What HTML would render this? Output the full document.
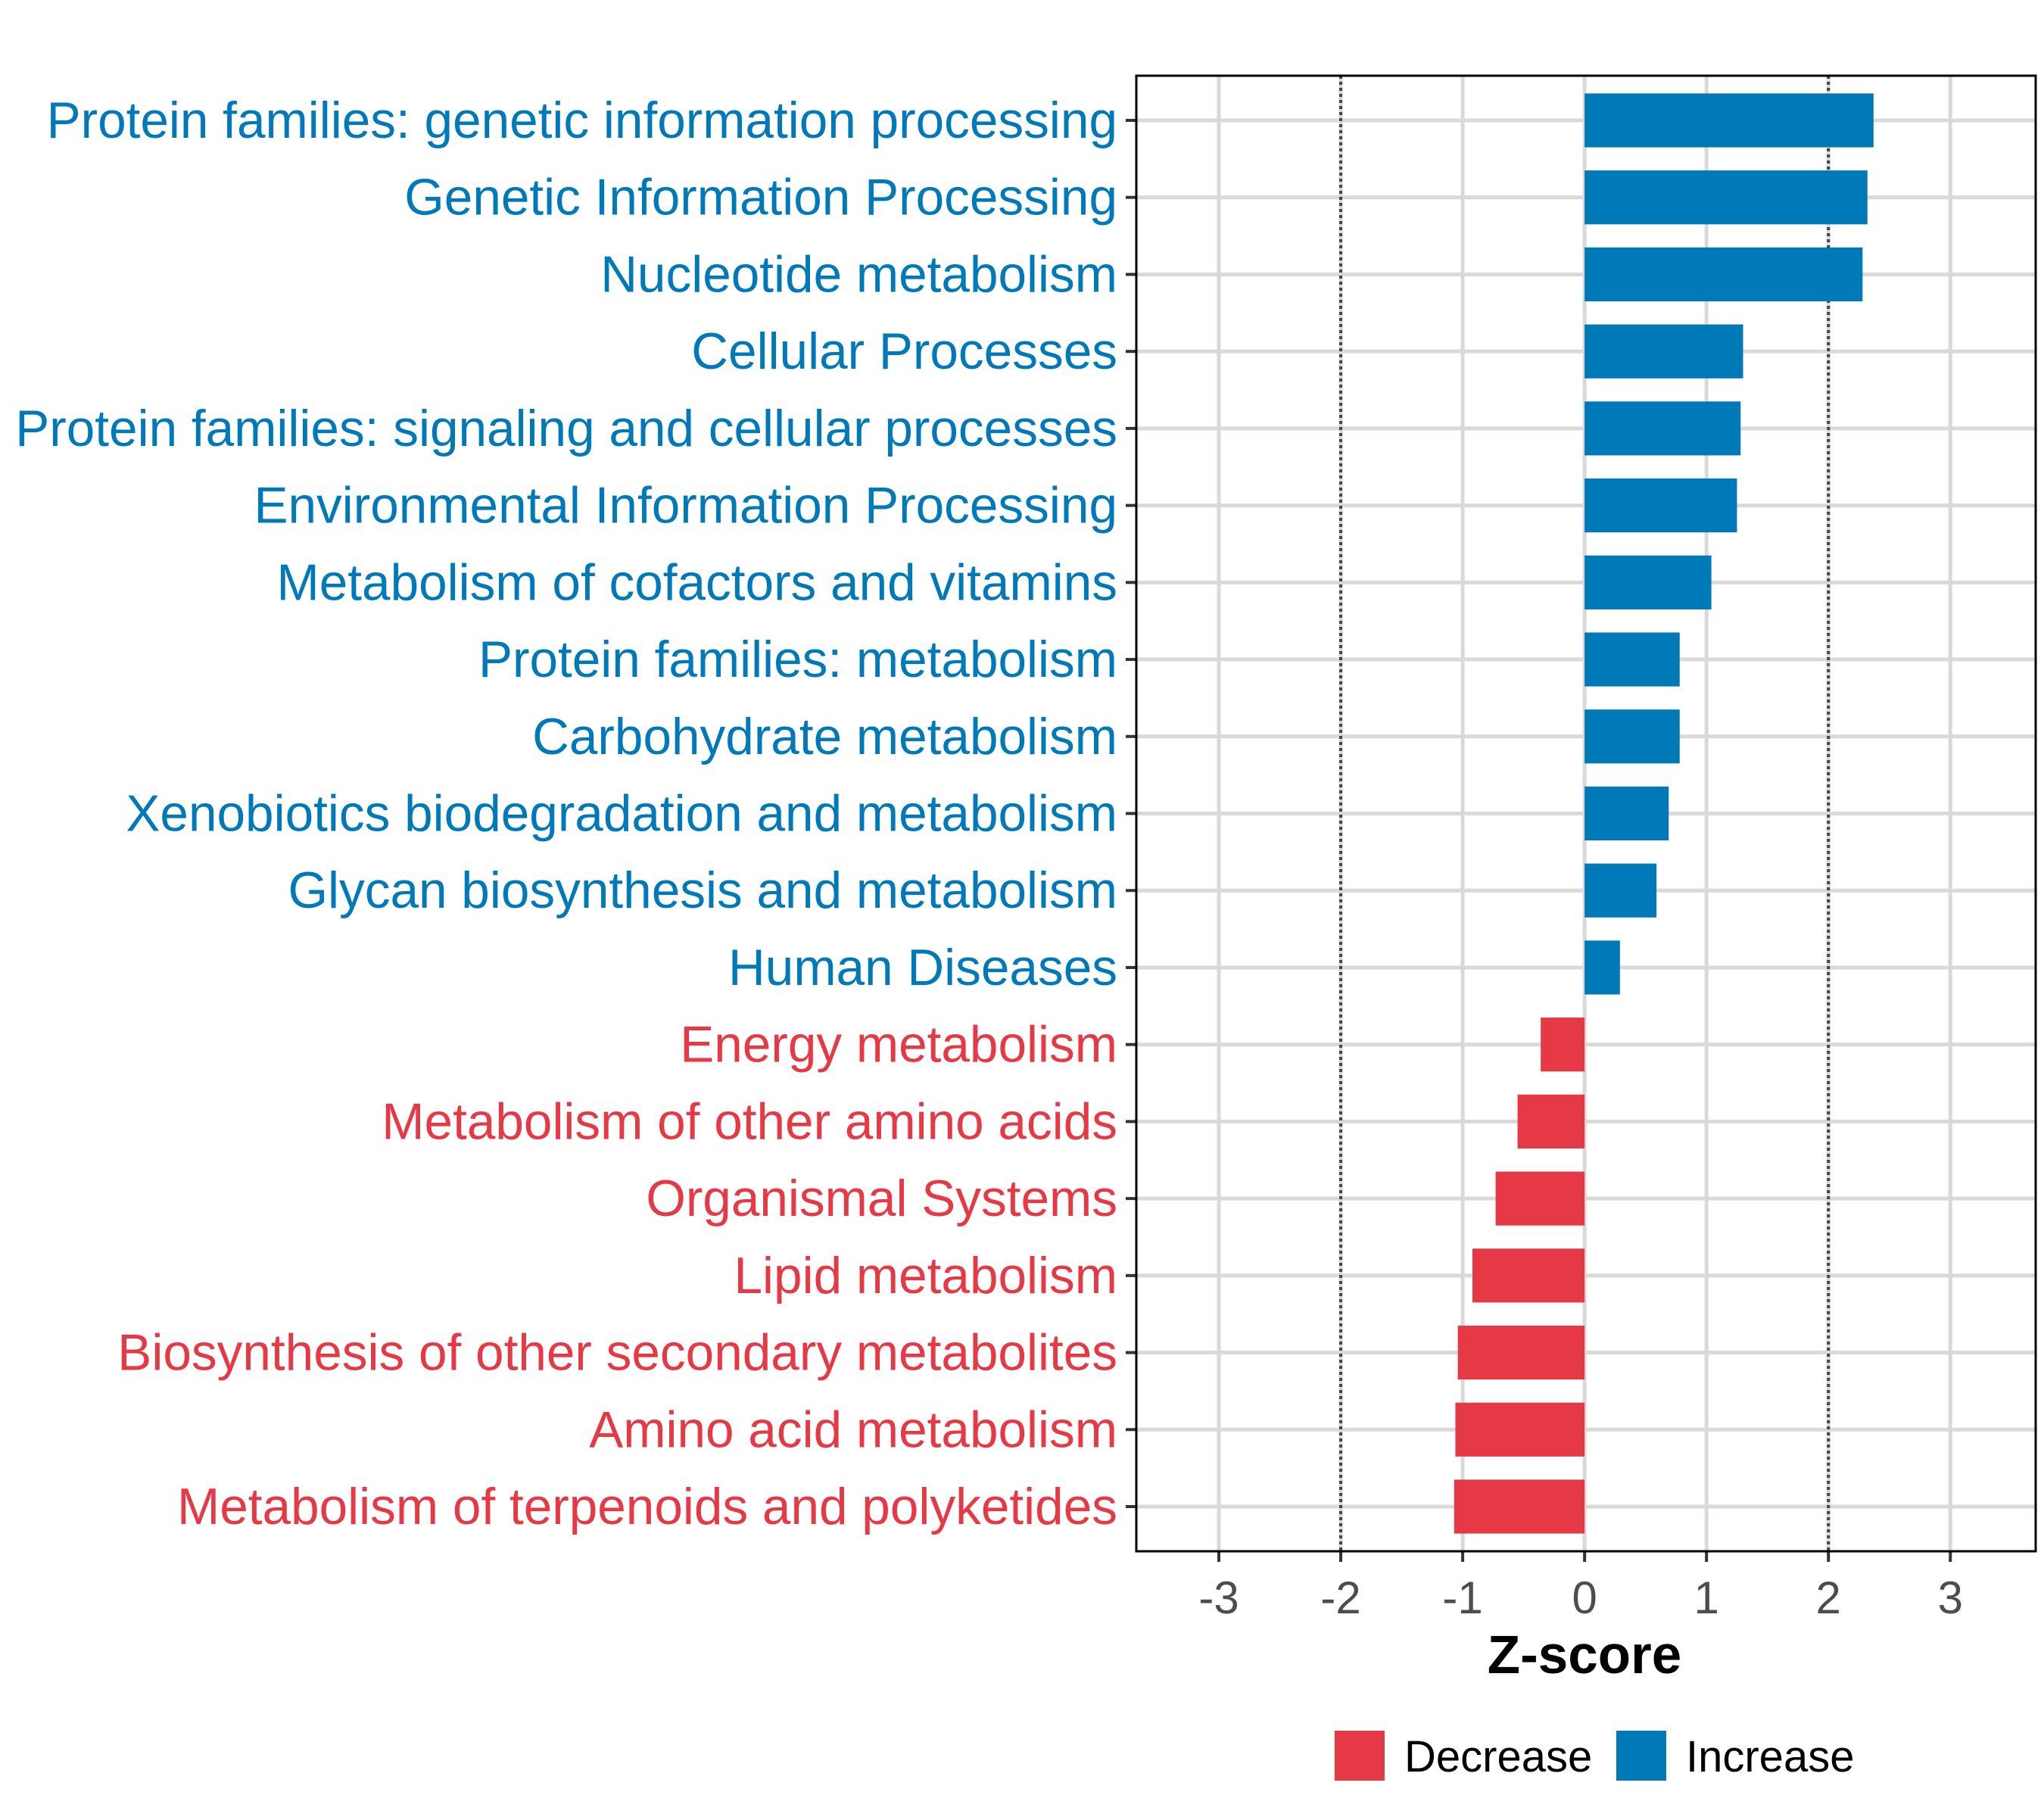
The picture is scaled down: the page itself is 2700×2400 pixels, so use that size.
<!DOCTYPE html>
<html><head><meta charset="utf-8"><style>
html,body{margin:0;padding:0;background:#fff;}
svg{display:block;font-family:"Liberation Sans",sans-serif;}
</style></head><body>
<svg id="chart" width="2700" height="2400" viewBox="0 0 2700 2400" xmlns="http://www.w3.org/2000/svg">
<rect width="2700" height="2400" fill="#fff"/>
<g id="grid"></g><g id="refs"></g><g id="bars"></g><g id="ylabels"></g><g id="xaxis"></g>
<rect x="1501" y="100" width="1188" height="1949" fill="none" stroke="#000" stroke-width="3"/>
<text x="2093" y="2210" text-anchor="middle" font-size="71" font-weight="bold" fill="#000">Z-score</text>
<g>
<rect x="1763" y="2286" width="66" height="66" fill="#E63946"/>
<text x="1855" y="2340" font-size="58" fill="#000">Decrease</text>
<rect x="2135" y="2286" width="66" height="66" fill="#0079B8"/>
<text x="2227" y="2340" font-size="58" fill="#000">Increase</text>
</g>
</svg>
<script>
const categories = ["Protein families: genetic information processing","Genetic Information Processing","Nucleotide metabolism","Cellular Processes","Protein families: signaling and cellular processes","Environmental Information Processing","Metabolism of cofactors and vitamins","Protein families: metabolism","Carbohydrate metabolism","Xenobiotics biodegradation and metabolism","Glycan biosynthesis and metabolism","Human Diseases","Energy metabolism","Metabolism of other amino acids","Organismal Systems","Lipid metabolism","Biosynthesis of other secondary metabolites","Amino acid metabolism","Metabolism of terpenoids and polyketides"];
const zscores = [2.37,2.32,2.28,1.30,1.28,1.25,1.04,0.78,0.78,0.69,0.59,0.29,-0.36,-0.55,-0.73,-0.92,-1.04,-1.06,-1.07];
const xTicks = [-3,-2,-1,0,1,2,3];
const refLines = [-2,2];

const NS="http://www.w3.org/2000/svg";
const plotL=1501, plotR=2689, plotT=100, plotB=2049;
const xMin=-3.677, xMax=3.70;
function xs(v){return plotL+(v-xMin)/(xMax-xMin)*(plotR-plotL);}
const step=(plotB-plotT)/(categories.length-1+1.16);
function ys(i){return plotT+59+i*step;}
function mk(tag,attrs,parent){const e=document.createElementNS(NS,tag);for(const k in attrs)e.setAttribute(k,attrs[k]);parent.appendChild(e);return e;}
const grid=document.getElementById('grid'),refs=document.getElementById('refs'),bars=document.getElementById('bars'),yl=document.getElementById('ylabels'),xa=document.getElementById('xaxis');
xTicks.forEach(t=>{
  const g=mk('line',{x1:xs(t),x2:xs(t),y1:plotT,y2:plotB,stroke:'#d9d9d9','stroke-width':5},grid);
  
  
  const tk=mk('line',{x1:xs(t),x2:xs(t),y1:plotB,y2:plotB+14,stroke:'#333','stroke-width':4},xa);
  
  
  const tl=mk('text',{x:xs(t),y:plotB+82,'text-anchor':'middle','font-size':60,fill:'#4d4d4d'},xa);
  tl.textContent=String(t);
  
  
});
categories.forEach((c,i)=>{
  const y=ys(i);
  const g=mk('line',{x1:plotL,x2:plotR,y1:y,y2:y,stroke:'#d9d9d9','stroke-width':5},grid);
  
  
  const v=zscores[i];
  const col=v>=0?'#0079B8':'#E63946';
  const bh=step*0.7;
  const b=mk('rect',{x:Math.min(xs(0),xs(v)),y:y-bh/2,width:Math.abs(xs(v)-xs(0)),height:bh,fill:col},bars);
  
  
  const tk=mk('line',{x1:plotL-14,x2:plotL,y1:y,y2:y,stroke:'#333','stroke-width':4},yl);
  
  
  const t=mk('text',{x:plotL-25,y:y+23,'text-anchor':'end','font-size':67.5,fill:col},yl);
  t.textContent=c;
  
  
});
refLines.forEach(r=>{
  const l=mk('line',{x1:xs(r),x2:xs(r),y1:plotT,y2:plotB,stroke:'#444','stroke-width':4,'stroke-dasharray':'4 4'},refs);
  
  
});
</script>
</body></html>
